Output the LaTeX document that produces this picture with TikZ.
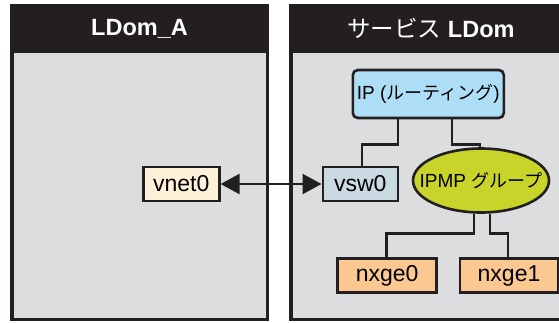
\documentclass[tikz,border=0pt]{standalone}
\usepackage{fontspec}
\setmainfont{Liberation Sans}
\newfontfamily\jp{Noto Sans CJK JP}
\usetikzlibrary{arrows.meta,shapes.geometric}
\definecolor{hdr}{HTML}{231F20}
\definecolor{panelgray}{HTML}{DCDDDF}
\definecolor{ipblue}{HTML}{ADDEF5}
\definecolor{vswblue}{HTML}{C9DAE3}
\definecolor{vnetcream}{HTML}{FFF2D9}
\definecolor{ipmpgreen}{HTML}{C8D42A}
\definecolor{nxpeach}{HTML}{FCC891}
\newcommand{\jpsmall}{\jp\fontsize{18bp}{22bp}\selectfont}
\tikzset{
  lbl/.style={font=\fontsize{23bp}{27bp}\selectfont, text=black, inner sep=0pt},
  smalllbl/.style={font=\fontsize{19bp}{23bp}\selectfont, text=black, inner sep=0pt},
  boxnode/.style={lbl, draw=hdr, line width=2.6bp, minimum width=#1, minimum height=34bp},
  hdrtext/.style={font=\fontsize{23.5bp}{28bp}\selectfont, text=white, inner sep=0pt},
  conn/.style={draw=hdr, line width=2.8bp},
}
\begin{document}
\begin{tikzpicture}[x=1bp,y=-1bp]
\useasboundingbox (0,0) rectangle (559,322);
\clip (0,0) rectangle (559,322);
% panels
\fill[hdr] (10,4) rectangle (269,321);
\fill[panelgray] (14,53) rectangle (266,318);
\fill[hdr] (289,4) rectangle (575,321);
\fill[panelgray] (293,53) rectangle (575,318);
\node[hdrtext] (hA) at (139.5,28.5) {\bfseries LDom\_A};
\node[hdrtext] (hS) at (431,28.5) {{\jp サービス} \bfseries LDom};
% nodes
\node[smalllbl, draw=hdr, line width=2.6bp, fill=ipblue, rounded corners=5bp,
      minimum width=151bp, minimum height=48bp] (ip) at (428.3,94)
      {IP ({\jpsmall ルーティング})};
\node[boxnode=75bp, fill=vswblue] (vsw) at (360.3,184) {vsw0};
\node[boxnode=76bp, fill=vnetcream] (vnet) at (181.3,184) {vnet0};
\node[smalllbl, ellipse, draw=hdr, line width=2.6bp, fill=ipmpgreen,
      minimum width=136bp, minimum height=64bp] (ipmp) at (481,180.5)
      {\makebox[0pt]{IPMP {\jpsmall グループ}}};
\node[boxnode=99bp, fill=nxpeach] (nx0) at (387.2,275.7) {nxge0};
\node[boxnode=98bp, fill=nxpeach] (nx1) at (509,275.7) {nxge1};
% connectors
\draw[conn] ([xshift=-30.3bp]ip.south) -- ++(0,25) -| ([xshift=1.7bp]vsw.north);
\draw[conn] ([xshift=23.7bp]ip.south) -- ++(0,25) -| ([xshift=-1bp]ipmp.north);
\draw[conn] ([xshift=-7bp]ipmp.south) -- ++(0,19.5) -| ([xshift=-0.5bp]nx0.north);
\draw[conn] ([xshift=9bp]ipmp.south) -- ++(0,19.5) -| ([xshift=-1bp]nx1.north);
\draw[conn, line width=2.4bp, {Triangle[length=19bp,width=20bp]}-{Triangle[length=19bp,width=20bp]}]
  (vnet.east) -- (vsw.west);
\end{tikzpicture}
\end{document}
